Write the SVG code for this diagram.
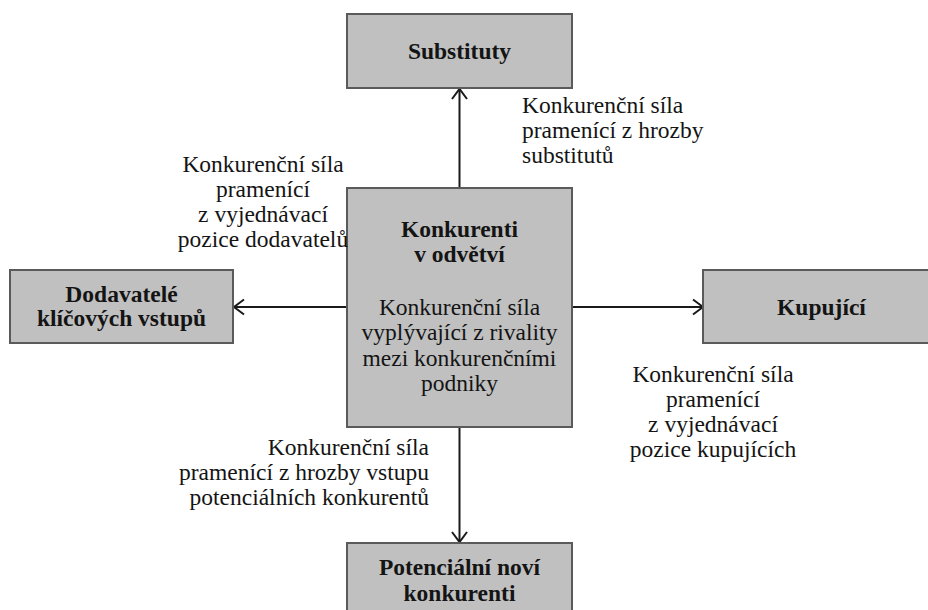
<svg xmlns="http://www.w3.org/2000/svg" width="928" height="610" viewBox="0 0 928 610">
  <style>
    .box { fill: #c0c0c0; stroke: #5a5a5a; stroke-width: 2; }
    .t { font-family: 'Liberation Serif', 'Times New Roman', serif; font-size: 23.5px; fill: #141414; }
    .b { font-weight: bold; }
    .c { text-anchor: middle; }
    .r { text-anchor: end; }
    .conn { stroke: #1a1a1a; stroke-width: 2; fill: none; }
  </style>
  <defs>
    <marker id="arr" markerUnits="userSpaceOnUse" markerWidth="14" markerHeight="18" refX="11" refY="9" orient="auto" viewBox="0 0 14 18">
      <path d="M1,1.5 L11,9 L1,16.5" fill="none" stroke="#1a1a1a" stroke-width="2"/>
    </marker>
  </defs>
  <rect width="928" height="610" fill="#ffffff"/>

  <g id="connectors">
    <line class="conn" x1="459.5" y1="188" x2="459.5" y2="89" marker-end="url(#arr)"/>
    <line class="conn" x1="347" y1="307" x2="234" y2="307" marker-end="url(#arr)"/>
    <line class="conn" x1="572" y1="307" x2="703" y2="307" marker-end="url(#arr)"/>
    <line class="conn" x1="459.5" y1="427" x2="459.5" y2="542" marker-end="url(#arr)"/>
  </g>

  <g id="substituty">
    <rect class="box" x="347" y="14" width="225" height="74"/>
    <text class="t b c" x="459.5" y="59">Substituty</text>
  </g>

  <g id="konkurenti">
    <rect class="box" x="347" y="188" width="225" height="239"/>
    <text class="t b c" x="459.5" y="237">Konkurenti</text>
    <text class="t b c" x="459.5" y="262">v odvětví</text>
    <text class="t c" x="459.5" y="315">Konkurenční síla</text>
    <text class="t c" x="459.5" y="340">vyplývající z rivality</text>
    <text class="t c" x="459.5" y="366">mezi konkurenčními</text>
    <text class="t c" x="459.5" y="391">podniky</text>
  </g>

  <g id="dodavatele">
    <rect class="box" x="10" y="270" width="223" height="73"/>
    <text class="t b c" x="121.5" y="302">Dodavatelé</text>
    <text class="t b c" x="121.5" y="326">klíčových vstupů</text>
  </g>

  <g id="kupujici">
    <rect class="box" x="703" y="270" width="240" height="73"/>
    <text class="t b c" x="821.5" y="315">Kupující</text>
  </g>

  <g id="potencialni">
    <rect class="box" x="347" y="543" width="225" height="80"/>
    <text class="t b c" x="459.5" y="575">Potenciální noví</text>
    <text class="t b c" x="459.5" y="601">konkurenti</text>
  </g>

  <g id="labels">
    <text class="t" x="522" y="113">Konkurenční síla</text>
    <text class="t" x="522" y="138">pramenící z hrozby</text>
    <text class="t" x="522" y="163">substitutů</text>

    <text class="t c" x="263" y="172">Konkurenční síla</text>
    <text class="t c" x="263" y="197">pramenící</text>
    <text class="t c" x="263" y="222">z vyjednávací</text>
    <text class="t c" x="263" y="247">pozice dodavatelů</text>

    <text class="t c" x="713" y="382">Konkurenční síla</text>
    <text class="t c" x="713" y="407">pramenící</text>
    <text class="t c" x="713" y="432">z vyjednávací</text>
    <text class="t c" x="713" y="457">pozice kupujících</text>

    <text class="t r" x="429" y="455">Konkurenční síla</text>
    <text class="t r" x="429" y="480">pramenící z hrozby vstupu</text>
    <text class="t r" x="429" y="505">potenciálních konkurentů</text>
  </g>
</svg>
